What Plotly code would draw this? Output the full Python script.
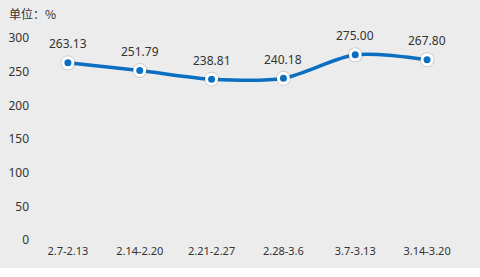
import plotly.graph_objects as go

categories = ["2.7-2.13", "2.14-2.20", "2.21-2.27", "2.28-3.6", "3.7-3.13", "3.14-3.20"]
values = [263.13, 251.79, 238.81, 240.18, 275.00, 267.80]
labels = ["263.13", "251.79", "238.81", "240.18", "275.00", "267.80"]
y_ticks = [0, 50, 100, 150, 200, 250, 300]

BLUE = "#0a6fc0"
BG = "#ececec"
TXT = "#333333"
FONT = "Noto Sans, Noto Sans CJK SC, sans-serif"

fig = go.Figure()
fig.add_trace(go.Scatter(x=categories, y=values, mode="lines",
                         line=dict(color=BLUE, width=3.5, shape="spline", smoothing=0.8),
                         hoverinfo="skip", showlegend=False))
fig.add_trace(go.Scatter(x=categories, y=values, mode="markers",
                         marker=dict(size=15, color="rgba(0,0,0,0.12)", line=dict(width=0)),
                         hoverinfo="skip", showlegend=False))
fig.add_trace(go.Scatter(x=categories, y=values, mode="markers",
                         marker=dict(size=13, color="white", line=dict(width=0)),
                         hoverinfo="skip", showlegend=False))
fig.add_trace(go.Scatter(x=categories, y=values, mode="markers",
                         marker=dict(size=7, color=BLUE, line=dict(width=0)),
                         showlegend=False))

for c, v, t in zip(categories, values, labels):
    fig.add_annotation(x=c, y=v, text=t, showarrow=False, yshift=19,
                       xanchor="center", yanchor="middle",
                       font=dict(size=12, color=TXT, family=FONT))

fig.add_shape(type="rect", xref="paper", yref="paper", x0=-0.2, x1=1.2,
              y0=-28/202, y1=1 + 38/202, fillcolor=BG, line=dict(width=0), layer="below")

fig.add_annotation(text="单位：%", xref="paper", yref="paper", x=-25/431, y=1 + 24/202,
                   xanchor="left", yanchor="middle", showarrow=False,
                   font=dict(size=12, color=TXT, family="Noto Sans CJK SC, sans-serif"))

fig.update_layout(
    width=480, height=277,
    margin=dict(l=32, r=17, t=38, b=37, autoexpand=False),
    paper_bgcolor="white", plot_bgcolor=BG,
    font=dict(family=FONT, size=11, color=TXT),
    xaxis=dict(type="category", showgrid=False, zeroline=False, showline=False,
               automargin=False, ticklabelstandoff=3,
               ticks="", tickfont=dict(size=11, color=TXT), range=[-0.5, 5.5]),
    yaxis=dict(range=[0, 300], tickvals=y_ticks, showgrid=False, zeroline=False,
               showline=False, ticks="", automargin=False, ticklabelstandoff=2,
               tickfont=dict(size=12, color=TXT)),
    showlegend=False,
)

fig.write_html("out.html")
